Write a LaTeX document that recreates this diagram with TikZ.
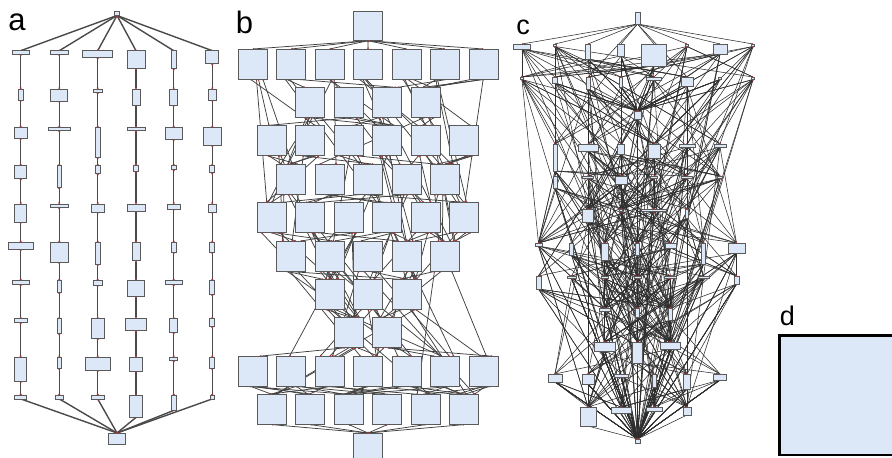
\documentclass[tikz,border=0pt]{standalone}
\usepackage{fontspec}
\setmainfont{Liberation Sans}
\usetikzlibrary{arrows.meta}
\pgfdeclarelayer{paper}
\pgfdeclarelayer{edges}
\pgfsetlayers{paper,edges,main}
\definecolor{boxfill}{HTML}{DCE7F7}
\definecolor{boxline}{HTML}{5A5A5A}
\definecolor{edgea}{HTML}{4A4A4A}
\definecolor{portc}{HTML}{A83232}
\tikzset{
  gbox/.style 2 args={draw=boxline, fill=boxfill, line width=0.8pt, inner sep=0pt, outer sep=0pt, minimum width=#1pt, minimum height=#2pt, anchor=north},
  aedge/.style={draw=edgea, line width=1.4pt, arrows={Circle[length=1.8pt,color=portc]-Circle[length=1.8pt,color=portc]}},
  bedge/.style={draw=black!75, line width=0.75pt, arrows={Circle[length=1.6pt,color=portc]-Circle[length=1.6pt,color=portc]}},
  cedge/.style={draw=black!82, line width=0.55pt, arrows={Circle[length=1.2pt,color=portc]-Circle[length=1.2pt,color=portc]}},
  lbl/.style={inner sep=0pt, outer sep=0pt, text=black},
  dboxst/.style={draw=black, line width=2.6pt, fill=boxfill, inner sep=0pt, minimum width=130pt, minimum height=119.7pt, anchor=north west}
}
\begin{document}
\begin{tikzpicture}[x=1pt,y=-1pt]
\pgfmathsetseed{20240}
\begin{pgfonlayer}{paper}\fill[white] (0,0) rectangle (892,458);\end{pgfonlayer}
\useasboundingbox (0,0) rectangle (892,458);

% panel labels
\node[lbl,font=\fontsize{31}{31}\selectfont] (la) at (17,22) {a};
\node[lbl,font=\fontsize{31}{31}\selectfont] (lb) at (244.5,22.5) {b};
\node[lbl,font=\fontsize{27}{27}\selectfont] (lc) at (523,27.5) {c};
\node[lbl,font=\fontsize{27}{27}\selectfont] (ld) at (787.5,315.5) {d};

% ---------------- panel a ----------------
\node[gbox={5}{4}] (atop) at (117,11.5) {};
\node[gbox={17}{11.5}] (abot) at (117,433) {};
\foreach \col/\xx/\LL in {
 1/20.7/{17/3.5,4.5/11,13/11,12/13,12/18,25/7,17/4,13/4,12/24,12/3.5},
 2/59.3/{18/3.5,17/12,22/3.5,4.5/22,18/3.5,18/20,4.5/12,4.5/15,4.5/11,8/3.5},
 3/97.7/{30/7,9/3.5,5/30,5/8,13/8,5/22,9/4.5,13/20,25/13,13/3.5},
 4/136/{18/18,8/16,18/3.5,5/6,18/7,8/18,17/16,21/12,13/14,13/22},
 5/173.7/{4.5/18,8/16,17/12,4.5/4,13/5,4.5/10,17/4,8/14,8/3.5,4.5/15},
 6/212.3/{13/13,8/11,18/18,5/7,8/8,5/10,5/14,5/8,5/11,4/3.5}}{
  \foreach \ww/\hh [count=\rw] in \LL {
    \pgfmathsetmacro\yy{50.7+38.3*(\rw-1)}
    \node[gbox={\ww}{\hh}] (a\col-\rw) at (\xx,\yy) {};
  }
}
\begin{pgfonlayer}{edges}
\foreach \col in {1,...,6}{
  \draw[aedge] (atop.south) -- (a\col-1.north);
  \draw[aedge] (a\col-10.south) -- (abot.north);
  \foreach \rw [evaluate=\rw as \rn using int(\rw+1)] in {1,...,9}
    \draw[aedge] (a\col-\rw.south) -- (a\col-\rn.north);
}
\end{pgfonlayer}

% ---------------- panel b ----------------
\node[gbox={29}{29}] (btop) at (368.1,11.7) {};
\node[gbox={29}{29}] (bbot) at (368.1,433) {};
\foreach \rw/\kmin/\kmax in {1/0/12,2/3/9,3/1/11,4/2/10,5/1/11,6/2/10,7/4/8,8/5/7,9/0/12,10/1/11}{
  \pgfmathtruncatemacro\ktwo{\kmin+2}
  \pgfmathsetmacro\yy{49+38.4*(\rw-1)}
  \foreach \k in {\kmin,\ktwo,...,\kmax}{
    \pgfmathtruncatemacro\ks{\k}
    \pgfmathsetmacro\xx{252.7+19.23*\ks}
    \node[gbox={29}{30}] (b\rw-\ks) at (\xx,\yy) {};
  }
}
\begin{pgfonlayer}{edges}
\foreach \kk in {0,2,...,12} \draw[bedge] (btop.south) -- (b1-\kk.north);
\foreach \kk in {1,3,...,11} \draw[bedge] (b10-\kk.south) -- (bbot.north);
\foreach \rw/\kmin/\kmax in {1/0/12,2/3/9,3/1/11,4/2/10,5/1/11,6/2/10,7/4/8,8/5/7,9/0/12}{
  \pgfmathtruncatemacro\ktwo{\kmin+2}
  \foreach \k in {\kmin,\ktwo,...,\kmax}{
    \foreach \e in {1,2,3,4}{
      \pgfmathtruncatemacro\ks{\k}
      \pgfmathtruncatemacro\dd{random(1,7)}
      \pgfmathtruncatemacro\tr{min(10,\rw+(\dd<4?1:(\dd<6?2:(\dd<7?3:4))))}
      \pgfmathtruncatemacro\tmin{{0,3,1,2,1,2,4,5,0,1}[\tr-1]}
      \pgfmathtruncatemacro\tmax{{12,9,11,10,11,10,8,7,12,11}[\tr-1]}
      \pgfmathtruncatemacro\kq{\ks+random(0,10)-5}
      \pgfmathtruncatemacro\kt{max(\tmin,min(\tmax,\tmin+2*round((\kq-\tmin)/2)))}
      \pgfmathtruncatemacro\ka{235+random(0,70)}
      \pgfmathtruncatemacro\kb{55+random(0,70)}
      \draw[bedge] (b\rw-\ks.\ka) -- (b\tr-\kt.\kb);
    }
  }
}
\end{pgfonlayer}

% ---------------- panel c ----------------
\foreach \ly/\yt/\NL in {
 0/12/{7/5/12},
 1/44/{0/17/5,2/3/2.5,4/5/15,6/7/12,8/25/22,10/3/2.5,12/14/10,14/3/2.5},
 2/77/{0/3/2.5,2/5/6,4/4/12,6/3.5/10,8/15/3,10/12/9,12/3/2.5,14/3/2.5},
 3/111/{7/7/8},
 4/144/{2/4/27,4/20/7,6/7/10,8/12/14,10/16/3,12/12/3},
 5/176/{2/4/12,4/11/2.5,6/12/8,8/7/2.5,10/11/2.5,12/5/2.5},
 6/209/{4/11/13,6/3/2.5,8/25/2.5,10/3.5/9},
 7/243/{1/7/3,3/4/12,5/7/17,7/3.5/12,9/11/5,11/4/21,13/17/10},
 8/276/{1/5/13,3/9/2.5,5/7/2.5,7/7/2.5,9/12/2.5,11/11/2.5,13/5/8},
 9/308/{5/11/3,7/4/9,9/4/12},
 10/342/{5/21/9,7/10/21,9/20/7},
 11/374/{2/14/8,4/12/10,6/14/3,8/4/13,10/7/15,12/13/6},
 12/407/{4/16/19,6/20/6,8/16/4,10/8/8},
 13/439/{7/5/4}}{
  \foreach \k/\ww/\hh [count=\ii] in \NL {
    \pgfmathsetmacro\xx{522+16.5*\k}
    \node[gbox={\ww}{\hh}] (c\ly-\ii) at (\xx,\yt) {};
  }
}
\begin{pgfonlayer}{edges}
\foreach \ii in {1,...,8} \draw[cedge] (c0-1.south) -- (c1-\ii.north);
\foreach \ii in {3,6} \draw[cedge] (c0-1.south) -- (c2-\ii.north);
\foreach \ly/\nn in {1/8,2/8,3/1,4/6,5/6,6/4,7/7,8/7,9/3,10/3,11/6}{
  \foreach \ii in {1,...,\nn}{
    \foreach \e in {1,...,10}{
      \pgfmathtruncatemacro\dd{random(1,10)}
      \pgfmathtruncatemacro\tl{min(13,\ly+(\dd<4?1:(\dd<6?2:(\dd<8?3:(\dd<10?5:8)))))}
      \pgfmathtruncatemacro\nt{{1,8,8,1,6,6,4,7,7,3,3,6,4,1}[\tl]}
      \pgfmathtruncatemacro\jj{random(1,\nt)}
      \draw[cedge] (c\ly-\ii.south) -- (c\tl-\jj.north);
    }
  }
}
\foreach \ii in {1,...,6} \draw[cedge] (c11-\ii.south) -- (c13-1.north);
\foreach \ii in {1,...,4} \draw[cedge] (c12-\ii.south) -- (c13-1.north);
\end{pgfonlayer}

% ---------------- panel d ----------------
\node[dboxst] (dbx) at (778,334) {};
\end{tikzpicture}
\end{document}
